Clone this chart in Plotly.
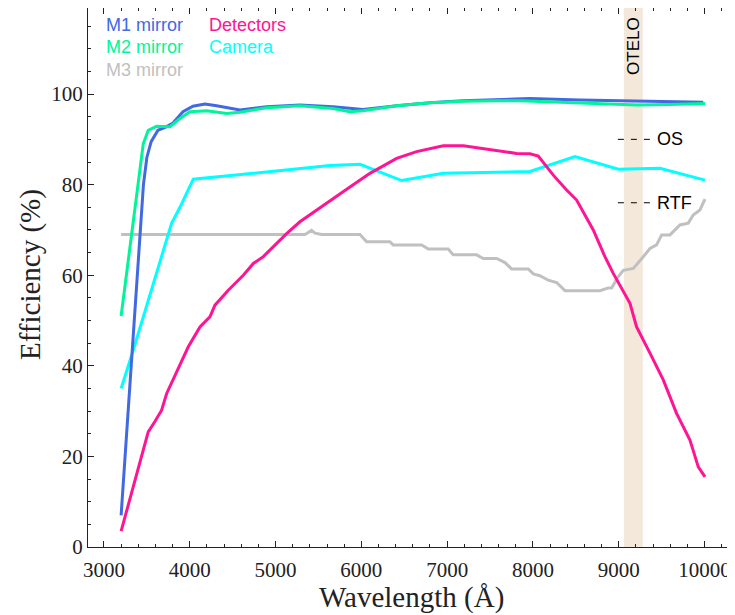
import plotly.graph_objects as go

# ---------------- data ----------------
m1_wl = [3200, 3460, 3500, 3550, 3629, 3731, 3804, 3921, 4037, 4177, 4313, 4503, 4585,
         4896, 5284, 5669, 5867, 6020, 6411, 6800, 7184, 7577, 7965, 8548, 9014, 9403, 9985]
m1_eff = [7, 80, 86, 89.5, 92, 92.8, 93.6, 96.1, 97.3, 97.8, 97.4, 96.7, 96.5,
          97.2, 97.6, 97.2, 96.8, 96.6, 97.4, 98.1, 98.5, 98.8, 99.0, 98.7, 98.5, 98.3, 98.2]

m2_wl = [3200, 3400, 3420, 3458, 3516, 3614, 3769, 3886, 4002, 4197, 4430, 4585, 4896,
         5284, 5669, 5867, 6020, 6411, 6800, 7184, 7577, 7848, 8159, 8548, 8820, 9208, 9597, 10005]
m2_eff = [51, 81, 84, 89, 92, 92.9, 92.8, 94.6, 96.1, 96.3, 95.7, 96.0, 97.0,
          97.4, 96.8, 96.1, 96.3, 97.4, 98.1, 98.4, 98.5, 98.5, 98.3, 98.1, 97.8, 97.6, 97.7, 97.9]

m3_wl = [3200, 5343, 5420, 5460, 5537, 5984, 6061, 6333, 6370, 6703, 6780, 7013, 7071, 7344,
         7421, 7577, 7674, 7751, 7946, 8004, 8081, 8178, 8276, 8373, 8781, 8878, 8917, 8995,
         9053, 9170, 9286, 9364, 9441, 9500, 9597, 9713, 9810, 9868, 9946, 10005]
m3_eff = [69, 69, 69.9, 69.3, 69, 69, 67.4, 67.4, 66.7, 66.7, 65.8, 65.8, 64.5, 64.5,
          63.7, 63.7, 62.8, 61.4, 61.4, 60.3, 59.9, 58.9, 58.4, 56.6, 56.6, 57.2, 57.2, 59.7,
          61.1, 61.5, 64.1, 65.9, 66.7, 68.9, 68.9, 71.1, 71.5, 73.3, 74.4, 76.8]

det_wl = [3200, 3516, 3594, 3672, 3731, 3866, 3983, 4119, 4235, 4294, 4449, 4624, 4741, 4857,
          5129, 5284, 5479, 5672, 5867, 6100, 6411, 6644, 6955, 7189, 7421, 7577, 7810, 7965,
          8062, 8237, 8392, 8509, 8703, 8839, 8936, 9131, 9208, 9364, 9519, 9674, 9830, 9927, 10005]
det_eff = [3.5, 25.4, 27.7, 30.2, 33.9, 39.4, 44.2, 48.6, 50.8, 53.4, 56.7, 60.0, 62.6, 64.1,
           69.2, 71.8, 74.4, 77.0, 79.5, 82.5, 85.8, 87.3, 88.6, 88.6, 88.0, 87.6, 86.9, 86.8,
           86.3, 82.1, 78.8, 76.6, 70.0, 64.1, 60.4, 53.8, 48.6, 42.8, 36.9, 29.5, 23.6, 17.7, 15.5]

cam_wl = [3200, 3342, 3789, 3886, 4041, 5634, 5984, 6470, 6955, 7965, 8490, 8995, 9480, 10005]
cam_eff = [35, 43.5, 71.5, 75, 81.2, 84.2, 84.5, 80.9, 82.5, 82.9, 86.2, 83.4, 83.6, 81]

series_names = ["M1 mirror", "M2 mirror", "M3 mirror", "Detectors", "Camera"]
series_colors = ["#4169E1", "#00F59A", "#C0C0C0", "#FF1493", "#00FFFF"]

otelo_band = [9060, 9280]
os_level = 90
rtf_level = 76

x_ticks = [3000, 4000, 5000, 6000, 7000, 8000, 9000, 10000]
x_tick_labels = ["3000", "4000", "5000", "6000", "7000", "8000", "9000", "10000"]
y_ticks = [0, 20, 40, 60, 80, 100]
y_tick_labels = ["0", "20", "40", "60", "80", "100"]

# ---------------- figure ----------------
fig = go.Figure()

series = [(m1_wl, m1_eff), (m2_wl, m2_eff), (m3_wl, m3_eff), (det_wl, det_eff), (cam_wl, cam_eff)]
order = [2, 4, 3, 0, 1]  # draw order: gray, camera, detectors, M1, M2 on top
for i in order:
    wl, eff = series[i]
    fig.add_trace(go.Scatter(x=wl, y=eff, mode="lines", name=series_names[i],
                             line=dict(color=series_colors[i], width=3), showlegend=False))

# OTELO band
fig.add_shape(type="rect", xref="x", yref="paper", x0=otelo_band[0], x1=otelo_band[1],
              y0=0, y1=1, fillcolor="rgb(244,232,218)", line=dict(width=0), layer="below")

# OS / RTF dashed markers
for lvl, txt in [(os_level, "OS"), (rtf_level, "RTF")]:
    fig.add_shape(type="line", xref="x", yref="y", x0=8990, x1=9364, y0=lvl, y1=lvl,
                  line=dict(color="black", width=1, dash="6px,7px"))
    fig.add_annotation(x=9420, y=lvl, xref="x", yref="y", text=txt, showarrow=False,
                       xanchor="left", yanchor="middle",
                       font=dict(family="Liberation Sans", size=18, color="black"))

fig.add_annotation(x=sum(otelo_band) / 2, y=110.7, xref="x", yref="y", text="OTELO",
                   showarrow=False, textangle=-90, xanchor="center", yanchor="middle",
                   font=dict(family="Liberation Sans", size=17, color="black"))

# legend as coloured text
legend_pos = [(3000, 115.2), (3000, 110.4), (3000, 105.3), (4200, 115.2), (4200, 110.4)]
for name, col, (lx, ly) in zip(series_names, series_colors, legend_pos):
    fig.add_annotation(x=lx, y=ly, xref="x", yref="y", text=name, showarrow=False,
                       xanchor="left", yanchor="middle",
                       font=dict(family="Liberation Sans", size=18, color=col))

# axis titles
fig.add_annotation(x=0.5, y=-0.0946, xref="paper", yref="paper", text="Wavelength (Å)",
                   showarrow=False, xanchor="center", yanchor="middle",
                   font=dict(family="Liberation Serif", size=29, color="#222"))
fig.add_annotation(x=-0.0896, y=0.5046, xref="paper", yref="paper", text="Efficiency (%)",
                   showarrow=False, textangle=-90, xanchor="center", yanchor="middle",
                   font=dict(family="Liberation Serif", size=29, color="#222"))

axis_common = dict(showline=True, linecolor="#222", linewidth=1, mirror="ticks",
                   ticks="inside", ticklen=6, tickcolor="#222", showgrid=False,
                   zeroline=False, tickfont=dict(family="Liberation Serif", size=21, color="#222"))

fig.update_xaxes(range=[2814, 10355], tickvals=x_ticks, ticktext=x_tick_labels,
                 minor=dict(dtick=200, tick0=3000, ticks="inside", ticklen=3, tickcolor="#222"),
                 ticklabelstandoff=4, **axis_common)
fig.update_yaxes(range=[0, 119.0], tickvals=y_ticks, ticktext=y_tick_labels,
                 minor=dict(dtick=5, tick0=0, ticks="inside", ticklen=3, tickcolor="#222"),
                 **axis_common)

# the page body adds an 8px margin, so the figure is sized to fit the 735x615 window
fig.update_layout(width=727, height=607, margin=dict(l=80, r=0, t=0, b=68),
                  plot_bgcolor="white", paper_bgcolor="white")

fig.write_html("out.html")
